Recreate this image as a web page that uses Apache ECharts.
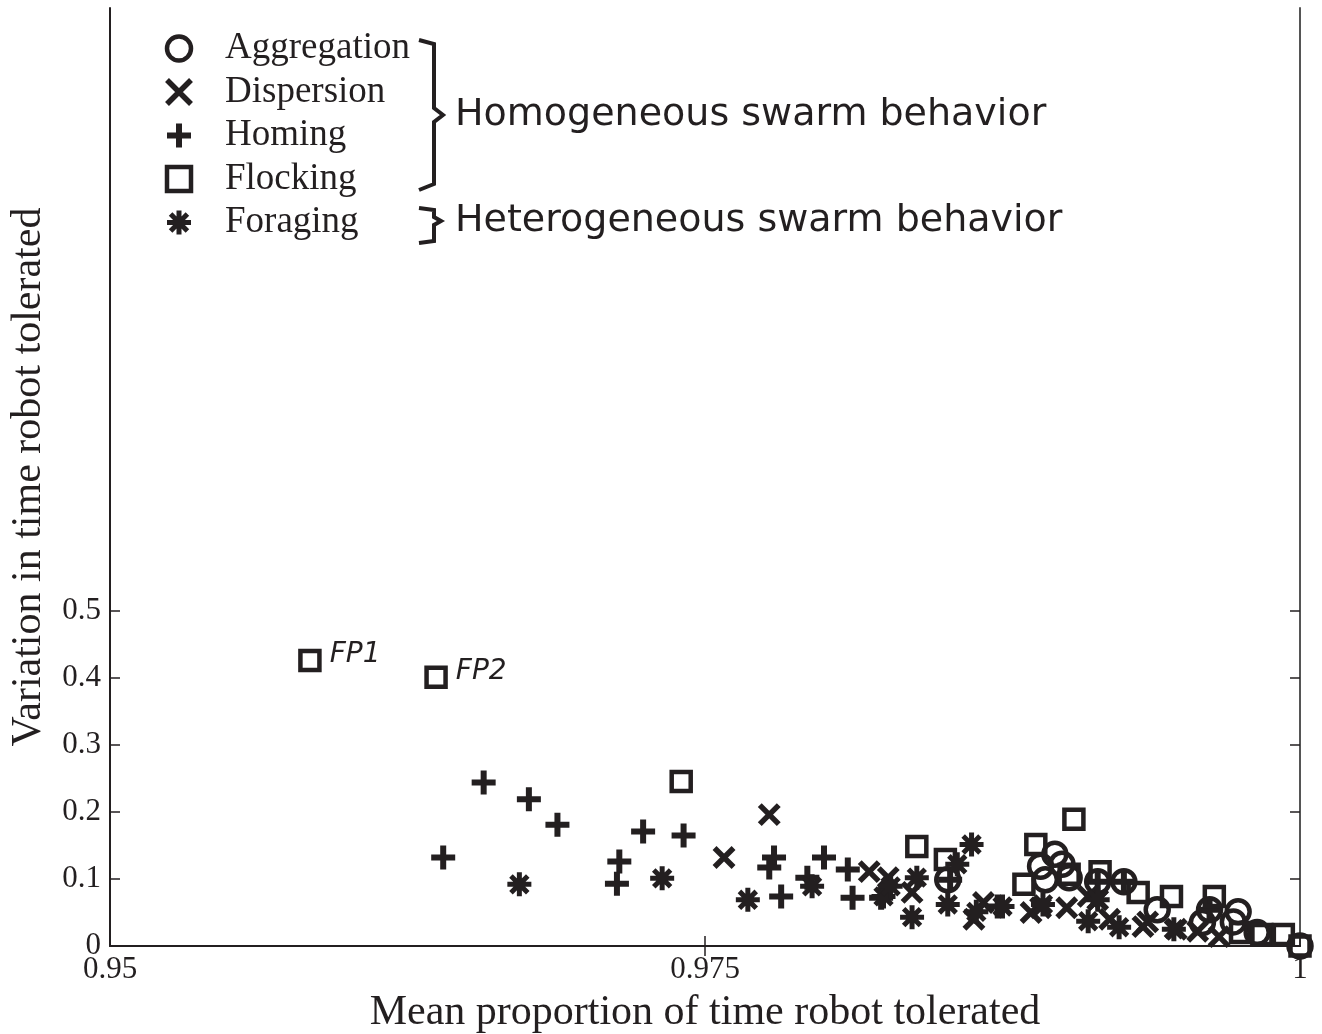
<!DOCTYPE html>
<html>
<head>
<meta charset="utf-8">
<script src="https://cdn.jsdelivr.net/npm/echarts@6/dist/echarts.min.js"></script>
<style>
  html, body { margin: 0; padding: 0; background: #fff; }
  #chart { width: 1322px; height: 1034px; }
</style>
</head>
<body>
<div id="chart"></div>
<script>
// values: [mean proportion, variation]
var aggregation = [
  [0.9852, 0.099], [0.9891, 0.119], [0.9897, 0.137], [0.9900, 0.122], [0.9893, 0.099],
  [0.9903, 0.102], [0.9915, 0.096], [0.9926, 0.096], [0.9940, 0.054], [0.9959, 0.035],
  [0.9962, 0.054], [0.9974, 0.051], [0.9972, 0.036], [0.9982, 0.020], [1.0000, 0.000]
];
var dispersion = [
  [0.9758, 0.132], [0.9777, 0.196], [0.9819, 0.111], [0.9827, 0.102], [0.9837, 0.080],
  [0.9863, 0.040], [0.9867, 0.065], [0.9887, 0.050], [0.9891, 0.057], [0.9902, 0.057],
  [0.9911, 0.074], [0.9915, 0.069], [0.9920, 0.040], [0.9934, 0.029], [0.9936, 0.036],
  [0.9948, 0.025], [0.9957, 0.022], [0.9966, 0.014]
];
var homing = [
  [0.9640, 0.132], [0.9657, 0.244], [0.9676, 0.219], [0.9688, 0.181], [0.9714, 0.126],
  [0.9713, 0.093], [0.9724, 0.171], [0.9741, 0.165], [0.9779, 0.132], [0.9777, 0.117],
  [0.9782, 0.074], [0.9793, 0.102], [0.9800, 0.132], [0.9810, 0.114], [0.9812, 0.072],
  [0.9824, 0.072], [0.9853, 0.099], [0.9873, 0.059], [0.9915, 0.096], [0.9926, 0.096],
  [0.9962, 0.054]
];
var flocking = [
  [0.9584, 0.426], [0.9637, 0.401], [0.9740, 0.2455], [0.9839, 0.1485], [0.9851, 0.129],
  [0.9889, 0.1515], [0.9905, 0.189], [0.9903, 0.107], [0.9884, 0.092], [0.9916, 0.111],
  [0.9932, 0.080], [0.9946, 0.074], [0.9964, 0.074], [0.9975, 0.020], [0.9984, 0.017],
  [0.9993, 0.017], [1.0000, 0.000]
];
var foraging = [
  [0.9672, 0.092], [0.9732, 0.101], [0.9768, 0.069], [0.9795, 0.089], [0.9825, 0.074],
  [0.9828, 0.089], [0.9837, 0.043], [0.9839, 0.102], [0.9852, 0.062], [0.9856, 0.122],
  [0.9862, 0.1515], [0.9864, 0.051], [0.9875, 0.059], [0.9892, 0.062], [0.9911, 0.037],
  [0.9915, 0.069], [0.9924, 0.028], [0.9947, 0.025]
];
var flockingTags = ['FP1', 'FP2'];
var seriesNames = ['Aggregation', 'Dispersion', 'Homing', 'Flocking', 'Foraging'];
var xTicks = [0.95, 0.975, 1];
var yTicks = [0, 0.1, 0.2, 0.3, 0.4, 0.5];

var ink = '#231f20';
var serif = '"Liberation Serif", "Times New Roman", serif';
var sans = '"DejaVu Sans", Verdana, sans-serif';

var chart = echarts.init(document.getElementById('chart'));

var mkSeries = function(name, data, symbol, size, bw, extra) {
  var s = {
    name: name,
    type: 'scatter',
    data: data,
    symbol: symbol,
    symbolSize: size,
    itemStyle: { color: 'rgba(0,0,0,0)', borderColor: ink, borderWidth: bw, opacity: 1 },
    emphasis: { disabled: true },
    silent: true
  };
  return Object.assign(s, extra || {});
};

var option = {
  animation: false,
  backgroundColor: '#fff',
  grid: { left: 110, right: 22, top: 8, bottom: 88, containLabel: false, outerBoundsMode: 'none' },
  legend: {
    orient: 'vertical',
    left: 159,
    top: 25,
    itemWidth: 24,
    itemHeight: 24,
    itemGap: 6.5,
    data: seriesNames,
    selectedMode: false,
    itemStyle: { borderWidth: 'inherit', opacity: 1 },
    textStyle: {
      fontFamily: serif,
      fontSize: 37,
      lineHeight: 35,
      color: ink,
      padding: [0, 0, 0, 29]
    }
  },
  xAxis: [
    {
      type: 'value',
      min: 0.95,
      max: 1,
      interval: 0.025,
      axisLine: { lineStyle: { color: '#3a3a3a', width: 2 } },
      axisTick: { inside: true, length: 10, customValues: xTicks, lineStyle: { color: ink, width: 1.5 } },
      axisLabel: {
        customValues: xTicks,
        fontFamily: serif, fontSize: 31, color: ink, margin: 8,
        formatter: function(v) { return String(+v.toFixed(3)); }
      },
      splitLine: { show: false },
      name: 'Mean proportion of time robot tolerated',
      nameLocation: 'middle',
      nameGap: 46,
      nameTextStyle: { fontFamily: serif, fontSize: 42, color: ink }
    },
    {
      type: 'value',
      position: 'top',
      min: 0.95,
      max: 1,
      interval: 0.025,
      axisLine: { show: true, lineStyle: { color: ink, width: 2 } },
      axisTick: { inside: true, length: 10, customValues: [0.975], lineStyle: { color: ink, width: 1.5 } },
      axisLabel: { show: false },
      splitLine: { show: false }
    }
  ],
  yAxis: [
    {
      type: 'value',
      min: 0,
      max: 1.4,
      interval: 0.1,
      axisLine: { show: true, lineStyle: { color: ink, width: 2 } },
      axisTick: { inside: true, length: 10, customValues: yTicks, lineStyle: { color: ink, width: 1.5 } },
      axisLabel: {
        customValues: yTicks,
        fontFamily: serif, fontSize: 31, color: ink, margin: 9,
        formatter: function(v) { return String(+v.toFixed(1)); }
      },
      splitLine: { show: false },
      name: 'Variation in time robot tolerated',
      nameLocation: 'middle',
      nameRotate: 90,
      nameGap: 60,
      nameTextStyle: { fontFamily: serif, fontSize: 42, color: ink }
    },
    {
      type: 'value',
      position: 'right',
      min: 0,
      max: 1.4,
      interval: 0.1,
      axisLine: { show: true, lineStyle: { color: '#555', width: 2 } },
      axisTick: { inside: true, length: 10, customValues: yTicks, lineStyle: { color: ink, width: 1.5 } },
      axisLabel: { show: false },
      splitLine: { show: false }
    }
  ],
  series: [
    mkSeries('Aggregation', aggregation, 'circle', 23, 4.5),
    mkSeries('Dispersion', dispersion, 'path://M0,0L10,10M10,0L0,10', 19, 5.5),
    mkSeries('Homing', homing, 'path://M5,0L5,10M0,5L10,5', 24, 6),
    mkSeries('Flocking', flocking, 'rect', 19, 4.5, {
      label: {
        show: true,
        position: 'right',
        distance: 8,
        offset: [0, -6],
        fontFamily: sans,
        fontStyle: 'italic',
        fontSize: 28,
        color: ink,
        formatter: function(p) { return flockingTags[p.dataIndex] || ''; }
      }
    }),
    mkSeries('Foraging', foraging,
      'path://M5,0L5,10M0,5L10,5M1.5,1.5L8.5,8.5M8.5,1.5L1.5,8.5', 24, 5)
  ],
  graphic: [
    {
      type: 'polyline',
      shape: { points: [[419, 40], [434, 44], [434, 108], [443, 115], [434, 122], [434, 184], [419, 190]] },
      style: { stroke: ink, lineWidth: 4, fill: null }
    },
    {
      type: 'polyline',
      shape: { points: [[419, 208], [434, 210], [434, 217], [441, 221], [434, 225], [434, 241], [419, 243]] },
      style: { stroke: ink, lineWidth: 4, fill: null }
    },
    {
      type: 'text',
      left: 455,
      top: 96,
      style: { text: 'Homogeneous swarm behavior', font: '38px ' + sans, fill: ink }
    },
    {
      type: 'text',
      left: 455,
      top: 202,
      style: { text: 'Heterogeneous swarm behavior', font: '38px ' + sans, fill: ink }
    }
  ]
};

chart.setOption(option);
</script>
</body>
</html>
